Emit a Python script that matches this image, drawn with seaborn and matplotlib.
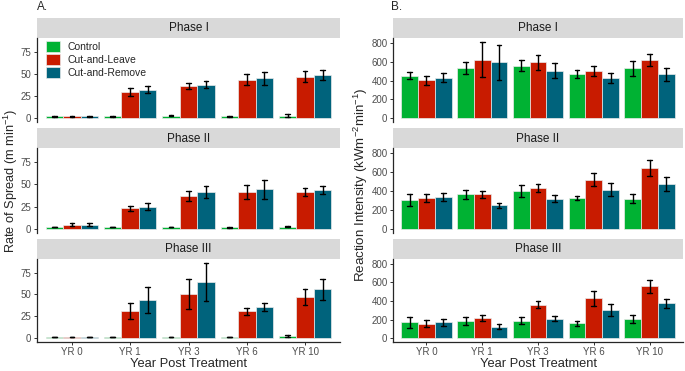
import numpy as np
import pandas as pd
import matplotlib
matplotlib.use("Agg")
import matplotlib.pyplot as plt
import seaborn as sns

years = ["YR 0", "YR 1", "YR 3", "YR 6", "YR 10"]
treatments = ["Control", "Cut-and-Leave", "Cut-and-Remove"]
phases = ["Phase I", "Phase II", "Phase III"]
colors = ["#00B233", "#C81B00", "#00637C"]

# rate of spread (m/min) -- rows: treatment, columns: year
ros_mean_p1 = [[2, 2, 3, 2, 3], [2, 30, 36, 43.5, 47], [2, 32, 38, 45, 48.5]]
ros_se_p1 = [[0.5, 0.6, 0.6, 0.4, 1.5], [0.5, 4.5, 3.3, 6.4, 6], [0.5, 4, 4, 7, 5.8]]
ros_mean_p2 = [[2, 2, 2, 1.5, 2], [4.7, 23, 37, 41.4, 41.4], [4.5, 25, 41.4, 44.5, 43.7]]
ros_se_p2 = [[0.4, 0.4, 0.4, 0.3, 0.5], [1.8, 3, 5.3, 7.4, 4.1], [1.7, 3.5, 6.5, 10.7, 4.9]]
ros_mean_p3 = [[1.5, 1.5, 1.5, 1.5, 2.5], [1.5, 31.5, 50.8, 30.8, 47.3], [1.5, 43.8, 64.2, 35.8, 55.8]]
ros_se_p3 = [[0.3, 0.3, 0.3, 0.3, 0.8], [0.3, 9.2, 17.3, 3.8, 8.8], [0.3, 14.8, 22, 4.8, 11.7]]

# reaction intensity (kW m-2 min-1)
ri_mean_p1 = [[452, 536, 558, 467, 529], [402, 623, 594, 503, 616], [431, 594, 503, 427, 464]]
ri_se_p1 = [[40, 62, 62, 40, 80], [45, 188, 81, 50, 67], [50, 187, 80, 52, 69]]
ri_mean_p2 = [[309, 364, 396, 327, 320], [327, 364, 433, 520, 640], [335, 247, 320, 415, 476]]
ri_se_p2 = [[63, 52, 64, 25, 51], [44, 33, 45, 71, 85], [40, 27, 40, 67, 75]]
ri_mean_p3 = [[171, 185, 189, 160, 204], [156, 215, 360, 429, 556], [171, 124, 211, 302, 375]]
ri_se_p3 = [[56, 45, 35, 27, 45], [40, 31, 35, 78, 65], [38, 27, 24, 62, 51]]


def long_frame(means, ses):
    # two rows per bar (mean - se, mean + se): the mean is the bar, min/max the error bar
    rows = []
    for phase, m, s in zip(phases, means, ses):
        for t, mrow, srow in zip(treatments, m, s):
            for y, mv, sv in zip(years, mrow, srow):
                rows.append((phase, t, y, mv - sv))
                rows.append((phase, t, y, mv + sv))
    return pd.DataFrame(rows, columns=["phase", "treatment", "year", "value"])


ros = long_frame([ros_mean_p1, ros_mean_p2, ros_mean_p3], [ros_se_p1, ros_se_p2, ros_se_p3])
ri = long_frame([ri_mean_p1, ri_mean_p2, ri_mean_p3], [ri_se_p1, ri_se_p2, ri_se_p3])

sns.set_style("ticks")
plt.rcParams["font.family"] = ["Liberation Sans", "DejaVu Sans"]
plt.rcParams["mathtext.default"] = "regular"

W, H = 685, 371
fig = plt.figure(figsize=(W / 100, H / 100), dpi=100)


def rect(x0, y0, x1, y1):
    return [x0 / W, 1 - y1 / H, (x1 - x0) / W, (y1 - y0) / H]


strip_rows = [(17.5, 38), (128, 148.5), (238.5, 259)]
axes_rows = [(38, 122), (148.5, 232.5), (259, 342)]
columns = [(37, 340, ros, [0, 25, 50, 75]), (393, 683, ri, [0, 200, 400, 600, 800])]

for ci, (x0, x1, df, yticks) in enumerate(columns):
    top = df.groupby(["phase", "treatment", "year"])["value"].max().max()
    ylim = (-0.05 * top, 1.05 * top)
    for ri_, phase in enumerate(phases):
        sy0, sy1 = strip_rows[ri_]
        sax = fig.add_axes(rect(x0, sy0, x1, sy1))
        sax.set_facecolor("#D9D9D9")
        sax.set_xticks([])
        sax.set_yticks([])
        for sp in sax.spines.values():
            sp.set_visible(False)
        sax.text(0.5, 0.48, phase, ha="center", va="center", fontsize=8.5, color="#1A1A1A",
                 transform=sax.transAxes)

        ay0, ay1 = axes_rows[ri_]
        ax = fig.add_axes(rect(x0, ay0, x1, ay1))
        show_legend = ci == 0 and ri_ == 0
        sns.barplot(data=df[df["phase"] == phase], x="year", y="value", hue="treatment",
                    order=years, hue_order=treatments, palette=colors, saturation=1,
                    estimator="mean", errorbar=lambda v: (v.min(), v.max()),
                    capsize=0.25, err_kws={"color": "black", "linewidth": 1.0},
                    width=0.9, gap=0, edgecolor="#EAEAEA", linewidth=0.5,
                    legend=show_legend, ax=ax)
        ax.set_xlim(-0.6, 4.6)
        ax.set_ylim(*ylim)
        ax.set_yticks(yticks)
        ax.set_xlabel("")
        ax.set_ylabel("")
        ax.spines["top"].set_visible(False)
        ax.spines["right"].set_visible(False)
        ax.spines["left"].set_linewidth(0.9)
        ax.tick_params(axis="y", labelsize=7, labelcolor="#4D4D4D", color="#333333",
                       length=2.5, width=0.7, pad=1.5)
        if ri_ < 2:
            ax.spines["bottom"].set_visible(False)
            ax.tick_params(axis="x", bottom=False, labelbottom=False)
        else:
            ax.spines["bottom"].set_linewidth(0.9)
            ax.tick_params(axis="x", labelsize=7, labelcolor="#4D4D4D", color="#333333",
                           length=2.5, width=0.7, pad=1)
        if show_legend:
            h, l = ax.get_legend_handles_labels()
            ax.legend(h, l, loc="upper left", bbox_to_anchor=(0.03, 0.965), frameon=False,
                      fontsize=7.5, handlelength=1.35, handleheight=1.25, labelspacing=0.2,
                      handletextpad=0.75, borderpad=0, borderaxespad=0)

    fig.text((x0 + x1) / 2 / W, 1 - 364 / H, "Year Post Treatment", ha="center", va="center",
             fontsize=9.3)

fig.text(11 / W, 1 - 181 / H, "Rate of Spread (m min$^{-1}$)", rotation=90,
         ha="center", va="center", fontsize=9.2)
fig.text(361 / W, 1 - 185 / H, "Reaction Intensity (kWm$^{-2}$min$^{-1}$)", rotation=90,
         ha="center", va="center", fontsize=9.6)
fig.text(37 / W, 1 - 7 / H, "A.", ha="left", va="center", fontsize=8.5)
fig.text(391 / W, 1 - 7 / H, "B.", ha="left", va="center", fontsize=8.5)

fig.savefig("out.png", dpi=100)
